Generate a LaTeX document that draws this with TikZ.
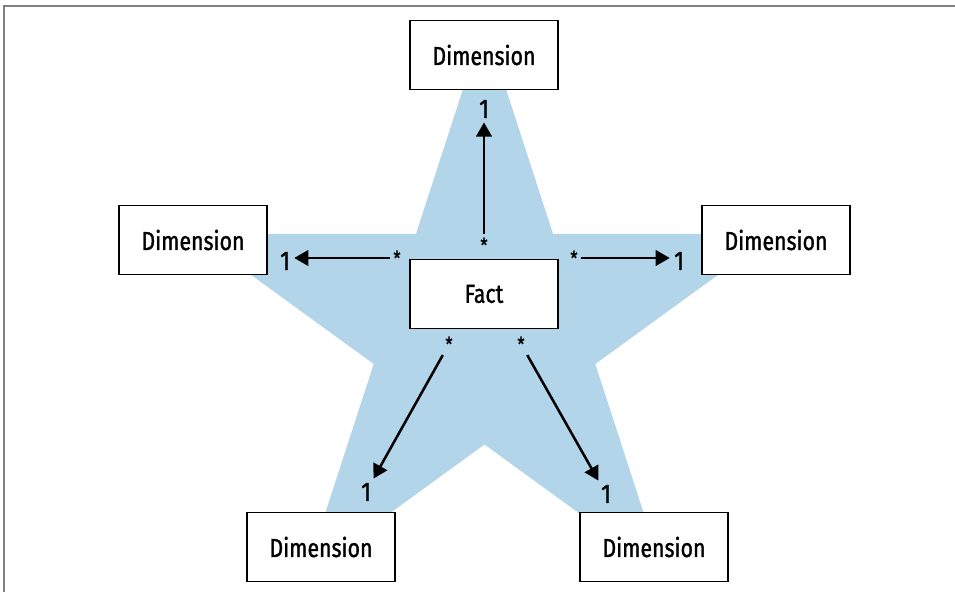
\documentclass[tikz,border=0pt]{standalone}
\usepackage{fontspec}
\setmainfont{Fira Sans}
\newfontfamily\labelfont{Fira Sans}[FakeStretch=0.82,UprightFeatures={FakeBold=1.2}]
\usetikzlibrary{arrows.meta}
\definecolor{starblue}{RGB}{179,213,234}
\definecolor{framegray}{RGB}{128,128,128}
\begin{document}
\begin{tikzpicture}[x=0.025cm,y=-0.025cm,
    table/.style={draw=black,line width=1.4pt,fill=white,minimum width=3.7cm,
      minimum height=1.725cm,inner sep=0pt,font=\labelfont\fontsize{18.5}{20}\selectfont},
    one/.style={inner sep=3pt,font=\labelfont\fontsize{19}{20}\selectfont},
    many/.style={inner sep=2.5pt,font=\labelfont\fontsize{14}{16}\selectfont},
    link/.style={line width=1.8pt,-{Triangle[length=10pt,width=11pt]}}]
  \useasboundingbox (0,0) rectangle (955,592);
  \fill[white] (0,0) rectangle (955,592);
  \draw[framegray,line width=1.4pt] (4,592) -- (4,6) -- (955,6);

  % star behind the tables
  \fill[starblue,shift={(484.5,328)}] (-90:305)
    \foreach \a/\r in {-54/116.5,-18/305,18/116.5,54/305,90/116.5,
                       126/305,162/116.5,198/305,234/116.5}
    { -- (\a:\r) } -- cycle;

  % tables
  \node[table] (fact) at (484,294) {Fact};
  \node[table] (dtop) at (484,55) {Dimension};
  \node[table] (dleft) at (193,240) {Dimension};
  \node[table] (dright) at (776,240) {Dimension};
  \node[table] (dbl) at (321,547) {Dimension};
  \node[table] (dbr) at (654,547) {Dimension};

  % many side
  \node[many] (mtop) at (484,245) {*};
  \node[many] (mleft) at (397,258) {*};
  \node[many] (mright) at (574,258) {*};
  \node[many] (mbl) at (449,344) {*};
  \node[many] (mbr) at (521,344) {*};

  % one side
  \node[one] (otop) at (484,109) {1};
  \node[one] (oleft) at (285,261) {1};
  \node[one] (oright) at (679,261) {1};
  \node[one] (obl) at (366,492) {1};
  \node[one] (obr) at (606,494) {1};

  \draw[link] (mtop) -- (otop);
  \draw[link] (mleft.west) -- (oleft.east |- 0,258);
  \draw[link] (mright.east) -- (oright.west |- 0,258);
  \draw[link] (mbl) -- (obl);
  \draw[link] (mbr) -- (obr);

\end{tikzpicture}
\end{document}
